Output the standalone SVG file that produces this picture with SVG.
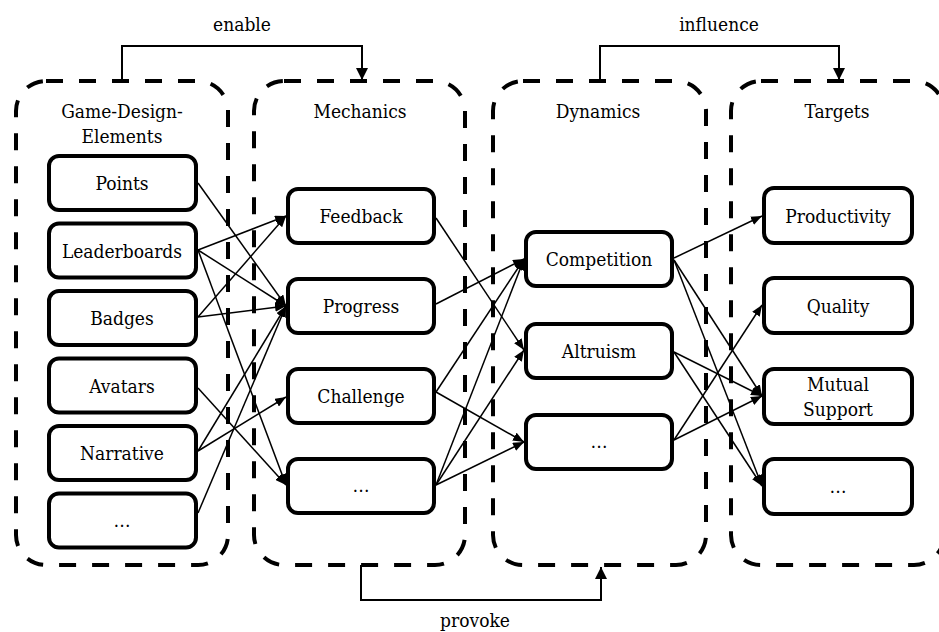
<svg xmlns="http://www.w3.org/2000/svg" width="939" height="632" viewBox="0 0 939 632">
<style>
.cont{fill:none;stroke:#000;stroke-width:4;stroke-dasharray:17 16}
.box{fill:#fff;stroke:#000;stroke-width:4}
text{font-family:"DejaVu Serif Condensed","DejaVu Serif",serif;font-stretch:condensed;font-size:19px;fill:#000;text-anchor:middle}
.e{stroke:#000;stroke-width:1.5;fill:none;marker-end:url(#ah)}
.big{stroke:#000;stroke-width:2;fill:none;marker-end:url(#bh)}
</style>
<defs>
<marker id="ah" markerUnits="userSpaceOnUse" markerWidth="11" markerHeight="9" refX="11" refY="4.5" orient="auto"><path d="M0,0 L11,4.5 L0,9 z" fill="#000"/></marker>
<marker id="bh" markerUnits="userSpaceOnUse" markerWidth="12" markerHeight="12" refX="12" refY="6" orient="auto"><path d="M0,0 L12,6 L0,12 z" fill="#000"/></marker>
</defs>
<rect width="939" height="632" fill="#fff"/>

<g id="containers">
<g id="c-gde"><rect class="cont" x="16" y="81" width="212" height="484" rx="30"/><text x="122" y="118">Game-Design-</text><text x="122" y="143">Elements</text></g>
<g id="c-mech"><rect class="cont" x="254" y="81" width="211" height="484" rx="30"/><text x="360" y="118">Mechanics</text></g>
<g id="c-dyn"><rect class="cont" x="493" y="81" width="213" height="484" rx="30"/><text x="598" y="118">Dynamics</text></g>
<g id="c-tgt"><rect class="cont" x="731" y="81" width="213" height="484" rx="30"/><text x="837" y="118">Targets</text></g>
</g>

<g id="connectors">
<path class="big" d="M122,81 V46 H362 V80"/>
<path class="big" d="M600,81 V46 H839 V80"/>
<path class="big" d="M361,565 V600 H601 V567"/>
<line class="e" x1="198" y1="183" x2="286" y2="306"/>
<line class="e" x1="198" y1="250" x2="286" y2="216"/>
<line class="e" x1="198" y1="250" x2="286" y2="306"/>
<line class="e" x1="198" y1="250" x2="286" y2="485"/>
<line class="e" x1="198" y1="317" x2="286" y2="216"/>
<line class="e" x1="198" y1="317" x2="286" y2="306"/>
<line class="e" x1="198" y1="388" x2="286" y2="485"/>
<line class="e" x1="198" y1="451" x2="286" y2="397"/>
<line class="e" x1="198" y1="451" x2="286" y2="306"/>
<line class="e" x1="198" y1="513" x2="286" y2="306"/>
<line class="e" x1="436" y1="218" x2="524" y2="350"/>
<line class="e" x1="436" y1="304" x2="524" y2="259"/>
<line class="e" x1="436" y1="392" x2="524" y2="259"/>
<line class="e" x1="436" y1="392" x2="524" y2="442"/>
<line class="e" x1="436" y1="485" x2="524" y2="259"/>
<line class="e" x1="436" y1="485" x2="524" y2="350"/>
<line class="e" x1="436" y1="485" x2="524" y2="442"/>
<line class="e" x1="674" y1="258" x2="762" y2="216"/>
<line class="e" x1="674" y1="260" x2="762" y2="396"/>
<line class="e" x1="674" y1="260" x2="762" y2="486"/>
<line class="e" x1="674" y1="352" x2="762" y2="396"/>
<line class="e" x1="674" y1="352" x2="762" y2="486"/>
<line class="e" x1="674" y1="440" x2="762" y2="305"/>
<line class="e" x1="674" y1="440" x2="762" y2="396"/>
</g>
<g id="labels">
<text x="242" y="31">enable</text>
<text x="719" y="31">influence</text>
<text x="475" y="627">provoke</text>
</g>

<g id="gde-nodes">
<g id="n-points"><rect class="box" x="49" y="156" width="147" height="54" rx="10"/><text x="122" y="190">Points</text></g>
<g id="n-leaderboards"><rect class="box" x="49" y="223.5" width="147" height="54" rx="10"/><text x="122" y="257.5">Leaderboards</text></g>
<g id="n-badges"><rect class="box" x="49" y="291" width="147" height="54" rx="10"/><text x="122" y="325">Badges</text></g>
<g id="n-avatars"><rect class="box" x="49" y="358.5" width="147" height="54" rx="10"/><text x="122" y="392.5">Avatars</text></g>
<g id="n-narrative"><rect class="box" x="49" y="426" width="147" height="54" rx="10"/><text x="122" y="460">Narrative</text></g>
<g id="n-gde-more"><rect class="box" x="49" y="493.5" width="147" height="54" rx="10"/><text x="122" y="527">…</text></g>
</g>

<g id="mech-nodes">
<g id="n-feedback"><rect class="box" x="288" y="189" width="146" height="54" rx="10"/><text x="361" y="223">Feedback</text></g>
<g id="n-progress"><rect class="box" x="288" y="279" width="146" height="54" rx="10"/><text x="361" y="313">Progress</text></g>
<g id="n-challenge"><rect class="box" x="288" y="369" width="146" height="54" rx="10"/><text x="361" y="403">Challenge</text></g>
<g id="n-mech-more"><rect class="box" x="288" y="459" width="146" height="54" rx="10"/><text x="361" y="492">…</text></g>
</g>

<g id="dyn-nodes">
<g id="n-competition"><rect class="box" x="526" y="232" width="146" height="54" rx="10"/><text x="599" y="266">Competition</text></g>
<g id="n-altruism"><rect class="box" x="526" y="324" width="146" height="54" rx="10"/><text x="599" y="358">Altruism</text></g>
<g id="n-dyn-more"><rect class="box" x="526" y="415" width="146" height="54" rx="10"/><text x="599" y="448">…</text></g>
</g>

<g id="tgt-nodes">
<g id="n-productivity"><rect class="box" x="764" y="188" width="148" height="55" rx="10"/><text x="838" y="222.5">Productivity</text></g>
<g id="n-quality"><rect class="box" x="764" y="278" width="148" height="55" rx="10"/><text x="838" y="312.5">Quality</text></g>
<g id="n-mutual"><rect class="box" x="764" y="369" width="148" height="55" rx="10"/><text x="838" y="391">Mutual</text><text x="838" y="416">Support</text></g>
<g id="n-tgt-more"><rect class="box" x="764" y="459" width="148" height="55" rx="10"/><text x="838" y="493">…</text></g>
</g>
</svg>
